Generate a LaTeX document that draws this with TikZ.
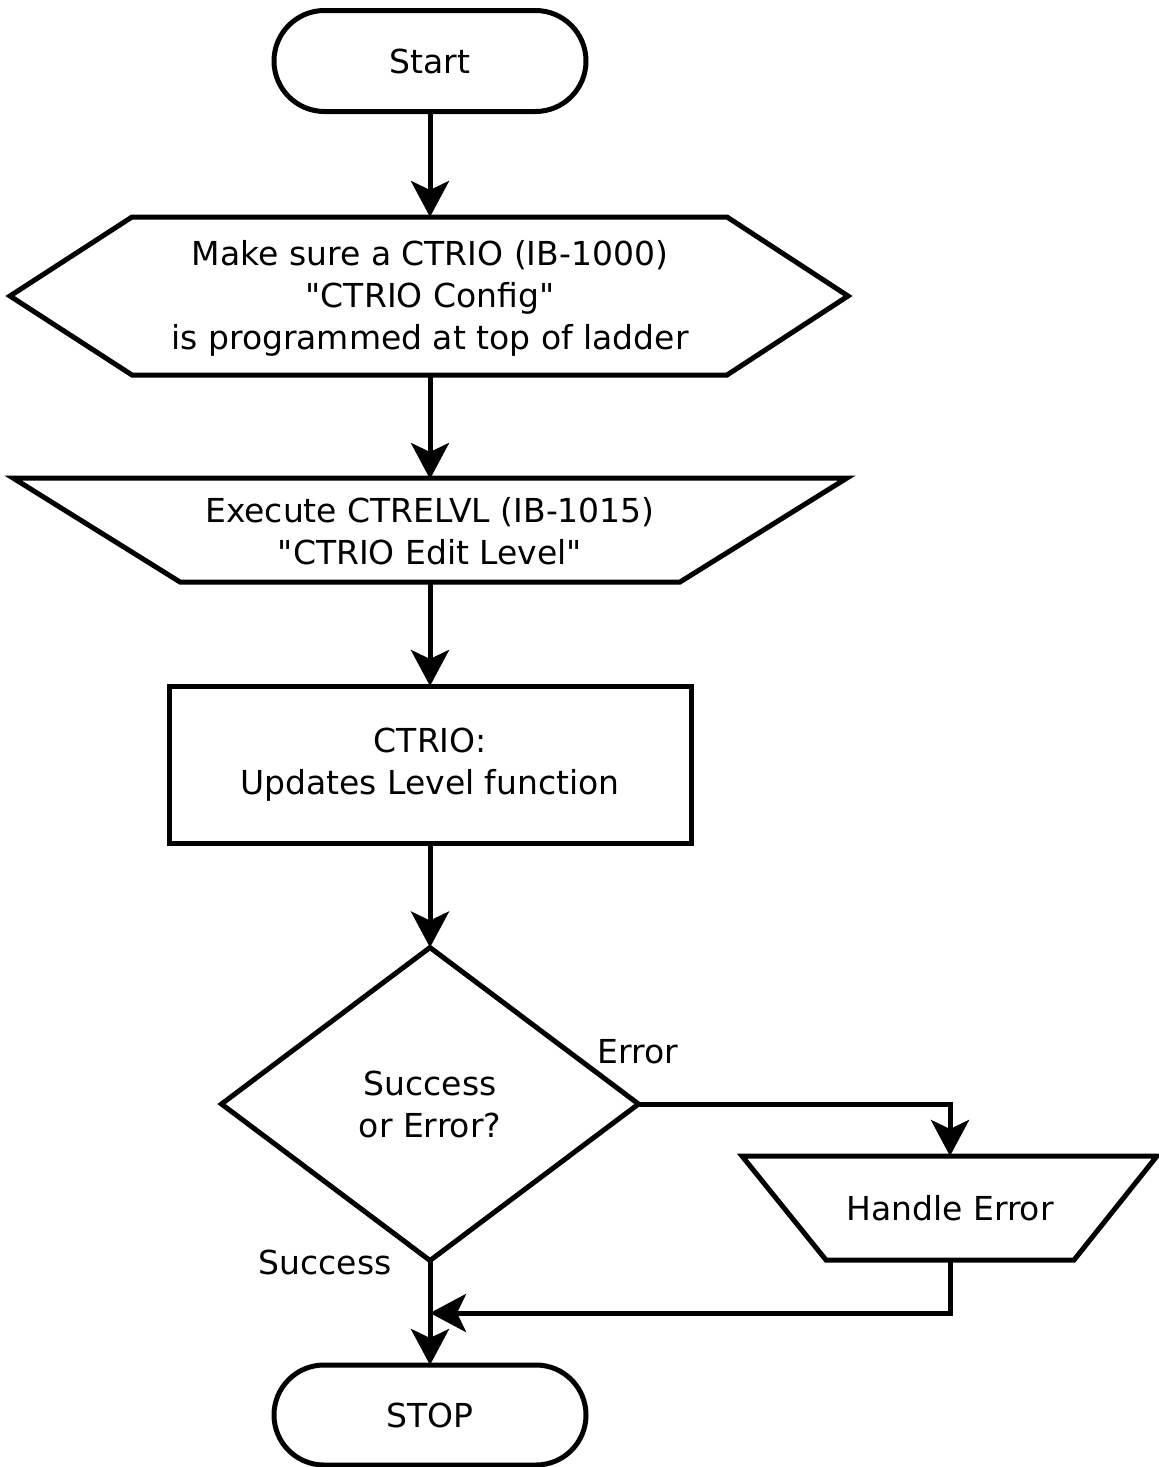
\documentclass[tikz,border=0pt]{standalone}
\usepackage{fontspec}
\setmainfont{DejaVu Sans}[Ligatures=TeXOff]
\usetikzlibrary{arrows.meta,shapes.misc}
\begin{document}
\begin{tikzpicture}[x=1pt,y=-1pt,
  every node/.style={font=\fontsize{33}{42}\selectfont, align=center, inner sep=0pt, outer sep=0pt},
  outline/.style={line width=5pt, line join=miter},
  conn/.style={line width=5pt, -{Stealth[length=36pt,width=38pt,inset=9pt]}},
  terminal/.style={rounded rectangle, draw, line width=5pt, minimum width=312pt}
]
\useasboundingbox (0,0) rectangle (1159,1467);

% terminals
\node[terminal, minimum height=101pt] (start) at (430,61) {Start};
\node[terminal, minimum height=100pt] (stop) at (430,1415) {STOP};

% preparation (hexagon)
\node[minimum width=838pt, minimum height=158pt] (prep) at (430,298)
  {Make sure a CTRIO (IB-1000)\\"CTRIO Config"\\is programmed at top of ladder};
\draw[outline] (10,296) -- (132,217) -- (727,217) -- (848,296) -- (727,375) -- (132,375) -- cycle;
\coordinate (prepN) at (430,217);
\coordinate (prepS) at (430,375);

% manual operation (trapezoid)
\node[minimum width=834pt, minimum height=104pt] (exec) at (430,531)
  {Execute CTRELVL (IB-1015)\\"CTRIO Edit Level"};
\draw[outline] (13,478) -- (847,478) -- (680,582) -- (180,582) -- cycle;

% process
\node[draw, line width=5pt, minimum width=522pt, minimum height=157pt] (proc) at (430,764.5)
  {CTRIO:\\Updates Level function};

% decision
\node[minimum width=417pt, minimum height=313pt] (dec) at (430,1104) {Success\\or Error?};
\draw[outline] (dec.north) -- (dec.east) -- (dec.south) -- (dec.west) -- cycle;

% handle error (trapezoid)
\node[minimum width=415pt, minimum height=104pt] (handle) at (950,1208) {Handle Error};
\draw[outline] (742,1156) -- (1157,1156) -- (1074,1260) -- (826,1260) -- cycle;

% labels
\node (errlbl) at (638,1052) {Error};
\node (suclbl) at (325,1262) {Success};

% connectors
\coordinate (join) at (430,1313);
\draw[conn] (start.south) -- (prepN);
\draw[conn] (prepS) -- (exec.north);
\draw[conn] (exec.south) -- (proc.north);
\draw[conn] (proc.south) -- (dec.north);
\draw[conn] (dec.east) -| (handle.north);
\draw[conn] (handle.south) |- (join);
\draw[conn] (dec.south) -- (stop.north);
\end{tikzpicture}
\end{document}
